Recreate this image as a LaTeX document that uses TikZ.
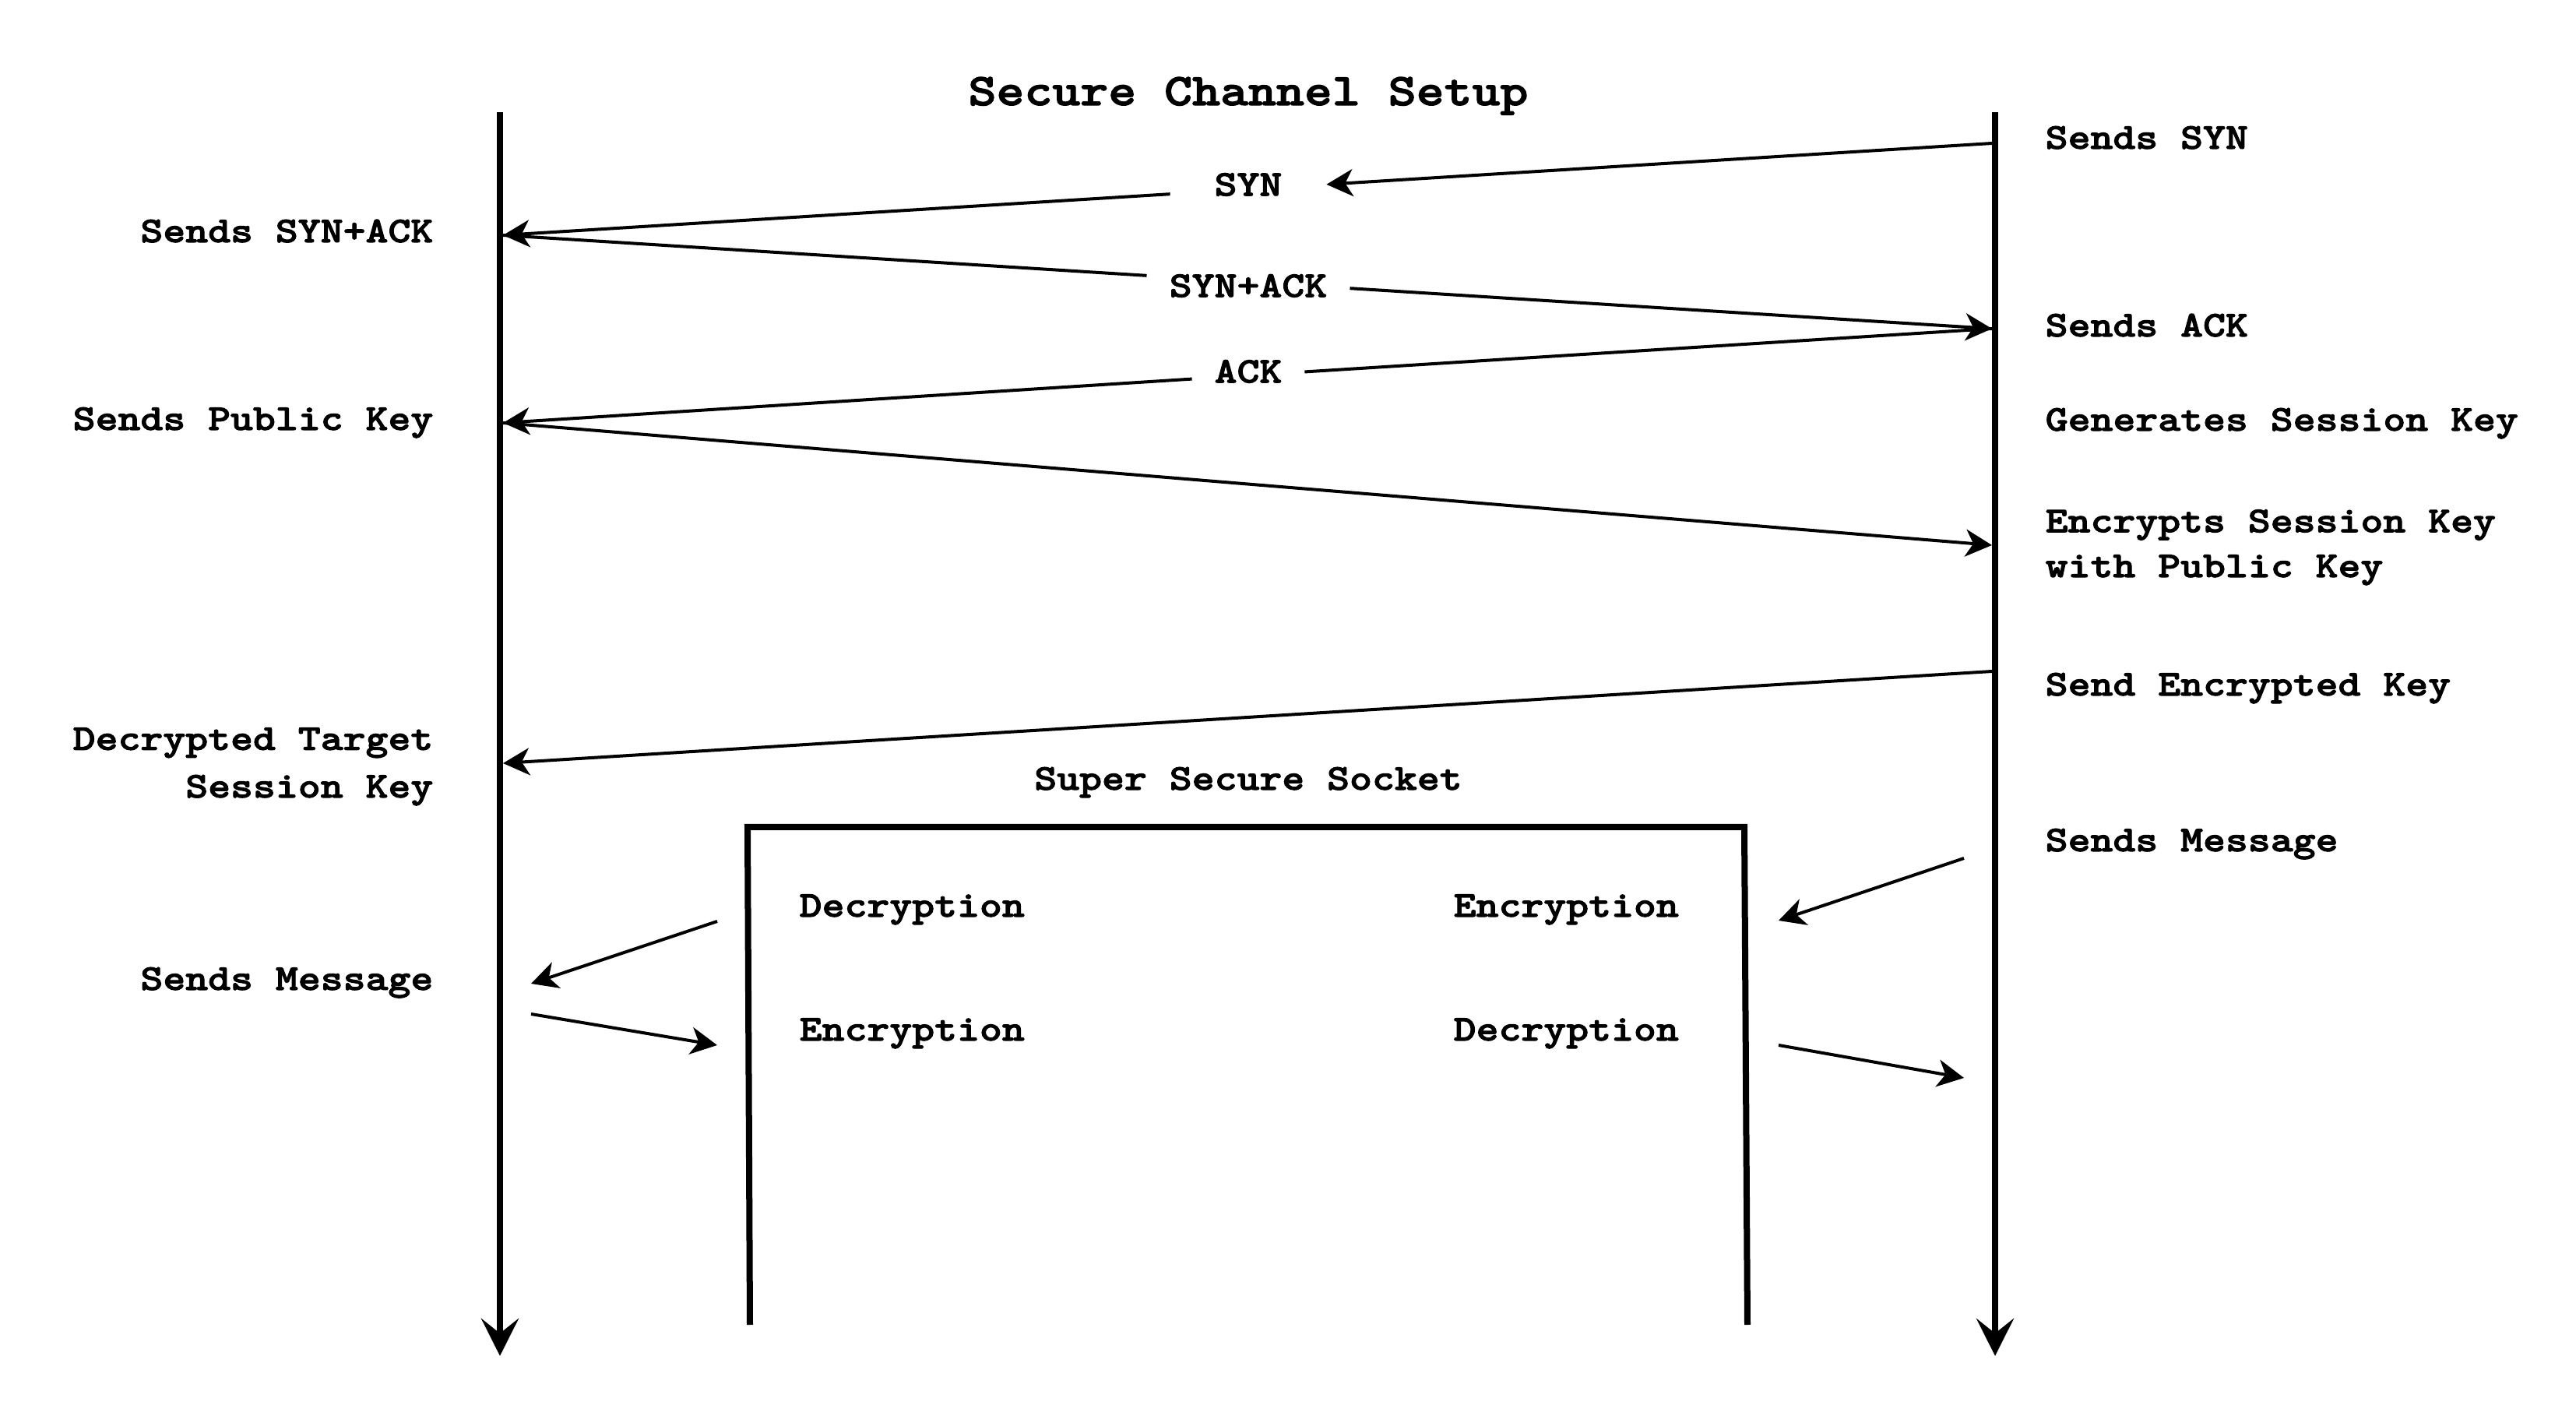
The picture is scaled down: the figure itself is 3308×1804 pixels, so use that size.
\documentclass[tikz,border=0pt]{standalone}
\usepackage{fontspec}
\setmainfont{Liberation Mono}
\newfontfamily\courb{lmmonolt10-bold.otf}[FakeStretch=1.18, FakeBold=2.2]
\usetikzlibrary{arrows.meta}
\newcommand\lblfont{\courb\fontsize{13.27pt}{17.4pt}\selectfont}
\newcommand\lblfontb{\courb\fontsize{13.27pt}{16.4pt}\selectfont}
\newcommand\ttlfont{\courb\fontsize{16.5pt}{20pt}\selectfont}
\tikzset{
  life/.style={line width=0.08cm, -{Stealth[length=0.48cm,width=0.48cm,inset=0.19cm]}},
  msg/.style={line width=0.04cm, -{Stealth[length=0.34cm,width=0.35cm,inset=0.1cm]}},
  seg/.style={line width=0.04cm},
  boxline/.style={line width=0.08cm, line join=miter},
  lbl/.style={font=\lblfont, inner sep=0pt},
  midlbl/.style={font=\lblfont, inner ysep=0.02cm},
  ttl/.style={font=\ttlfont, inner sep=0pt}
}
\begin{document}
\begin{tikzpicture}[x=0.01cm,y=-0.01cm]
\useasboundingbox (0,0) rectangle (3308,1804);
% title
\node[ttl, anchor=base] (title) at (1603,135) {Secure Channel Setup};
% lifelines
\coordinate (Ltop) at (642,144);
\coordinate (Lbot) at (642,1741);
\coordinate (Rtop) at (2562,144);
\coordinate (Rbot) at (2562,1741);
\draw[life] (Ltop) -- (Lbot);
\draw[life] (Rtop) -- (Rbot);
% message end points on the lifelines
\coordinate (R1) at (2558,184);
\coordinate (L1) at (646,302);
\coordinate (R2) at (2558,422);
\coordinate (L2) at (646,543);
\coordinate (R3) at (2558,700);
\coordinate (R4) at (2558,862);
\coordinate (L4) at (646,980);
% middle labels
\node[midlbl, inner xsep=0.563cm] (syn) at (1603,243) {\raisebox{0.06cm}[\height][\depth]{SYN}};
\node[midlbl, inner xsep=0.286cm] (synack) at (1603,362) {\raisebox{-0.05cm}[\height][\depth]{SYN+ACK}};
\node[midlbl, inner xsep=0.283cm] (ack) at (1603,482) {\raisebox{0.05cm}[\height][\depth]{ACK}};
% messages
\draw[msg] (R1) -- (syn);
\draw[msg] (syn) -- (L1);
\draw[seg] (L1) -- (synack);
\draw[msg] (synack) -- (R2);
\draw[seg] (R2) -- (ack);
\draw[msg] (ack) -- (L2);
\draw[msg] (L2) -- (R3);
\draw[msg] (R4) -- (L4);
% left labels
\node[lbl, anchor=base east] (lsynack) at (557,311) {Sends SYN+ACK};
\node[lbl, anchor=base east] (lpub) at (557,552) {Sends Public Key};
\node[lbl, anchor=base east, align=right] (ldec) at (557,1024) {Decrypted Target\\Session Key};
\node[lbl, anchor=base east] (lmsg) at (557,1271) {Sends Message};
% right labels
\node[lbl, anchor=base west] (rsyn) at (2626,191) {Sends SYN};
\node[lbl, anchor=base west] (rack) at (2626,432) {Sends ACK};
\node[lbl, anchor=base west] (rgen) at (2626,553) {Generates Session Key};
\node[lbl, font=\lblfontb, anchor=base west, align=left] (renc) at (2626,741) {Encrypts Session Key\\with Public Key};
\node[lbl, anchor=base west] (rsend) at (2626,893) {Send Encrypted Key};
\node[lbl, anchor=base west] (rmsg) at (2626,1093) {Sends Message};
% socket box
\node[lbl, anchor=base] (sock) at (1603,1014) {Super Secure Socket};
\draw[boxline] (963,1701) -- (960,1062) -- (2240,1062) -- (2244,1701);
\node[lbl, anchor=base west] (dec1) at (1026,1177) {Decryption};
\node[lbl, anchor=base west] (enc1) at (1866,1177) {Encryption};
\node[lbl, anchor=base west] (enc2) at (1026,1336) {Encryption};
\node[lbl, anchor=base west] (dec2) at (1866,1336) {Decryption};
% socket arrows
\coordinate (a6s) at (2522,1102); \coordinate (a6e) at (2284,1182);
\coordinate (a7s) at (2284,1342); \coordinate (a7e) at (2522,1384);
\coordinate (a8s) at (921,1183);  \coordinate (a8e) at (682,1263);
\coordinate (a9s) at (682,1302);  \coordinate (a9e) at (921,1342);
\draw[msg] (a6s) -- (a6e);
\draw[msg] (a7s) -- (a7e);
\draw[msg] (a8s) -- (a8e);
\draw[msg] (a9s) -- (a9e);
\end{tikzpicture}
\end{document}
